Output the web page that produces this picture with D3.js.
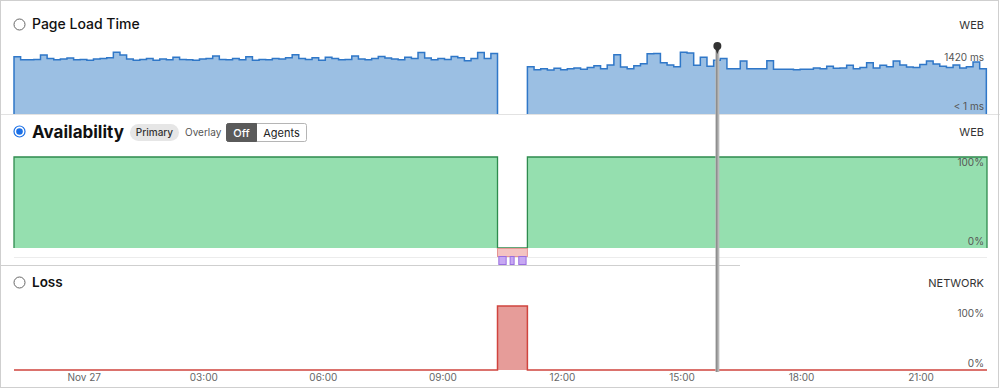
<!DOCTYPE html>
<html>
<head>
<meta charset="utf-8">
<script src="https://cdn.jsdelivr.net/npm/d3@7"></script>
<style>
  body { margin: 0; background: #fff; }
  svg { display: block; font-family: Inter, "Noto Sans", sans-serif; }
</style>
</head>
<body>
<div class="canvas"></div>
<script>
// time window + data segments (10 minute bins)
const domainStart = new Date(2023, 10, 26, 22, 15);
const domainEnd = new Date(2023, 10, 27, 22, 40);
const leftStart = new Date(2023, 10, 26, 22, 15);
const leftEnd = new Date(2023, 10, 27, 10, 23);
const rightStart = new Date(2023, 10, 27, 11, 8);
const rightEnd = new Date(2023, 10, 27, 22, 39);
const cursorTime = new Date(2023, 10, 27, 15, 54);

// page load time (ms) per bin
const loadLeft = [
  1340, 1270, 1270, 1280, 1380, 1300, 1270, 1290, 1310, 1270,
  1280, 1260, 1290, 1300, 1320, 1450, 1380, 1290, 1260, 1280,
  1300, 1260, 1290, 1270, 1330, 1280, 1270, 1260, 1290, 1300,
  1360, 1280, 1270, 1300, 1270, 1340, 1260, 1280, 1270, 1300,
  1290, 1320, 1390, 1300, 1280, 1320, 1260, 1330, 1300, 1270,
  1280, 1360, 1290, 1270, 1300, 1350, 1310, 1290, 1270, 1330,
  1300, 1440, 1310, 1270, 1300, 1280, 1350, 1320, 1250, 1300,
  1440, 1300, 1420
];
const loadRight = [
  1110, 1040, 1060, 1030, 1070, 1040, 1060, 1080, 1050, 1090,
  1130, 1060, 1150, 1390, 1100, 1060, 1130, 1180, 1410, 1420,
  1200, 1150, 1110, 1450, 1430, 1140, 1330, 1120, 1260, 1300,
  1060, 1060, 1240, 1060, 1060, 1060, 1250, 1050, 1050, 1050,
  1040, 1050, 1050, 1080, 1060, 1120, 1070, 1080, 1140, 1060,
  1090, 1200, 1080, 1140, 1110, 1240, 1150, 1100, 1090, 1160,
  1240, 1170, 1120, 1090, 1150, 1080, 1110, 1220, 1060
];

// availability (%) and loss (%) as steps: [time, value]
const availSteps = [
  [leftStart, 100], [leftEnd, 0], [rightStart, 100], [domainEnd, 100]
];
const lossSteps = [
  [leftStart, 0], [leftEnd, 100], [rightStart, 0], [domainEnd, 0]
];
// error markers under availability
const errorBand = [[leftEnd, rightStart]];
const agentErrors = [
  [new Date(2023, 10, 27, 10, 25), new Date(2023, 10, 27, 10, 36)],
  [new Date(2023, 10, 27, 10, 42), new Date(2023, 10, 27, 10, 48)],
  [new Date(2023, 10, 27, 10, 55), new Date(2023, 10, 27, 11, 6)]
];
const tickHours = [0, 3, 6, 9, 12, 15, 18, 21];

const dims = { width: 1000, height: 389 };

const svg = d3.select('.canvas')
  .append('svg')
  .attr('width', dims.width)
  .attr('height', dims.height);

const x = d3.scaleTime()
  .domain([domainStart, domainEnd])
  .range([14, 987]);

// turn a bin array into step points
const toPoints = (vals, start, end) => {
  const step = (end - start) / vals.length;
  const pts = vals.map((v, i) => [new Date(+start + i * step), v]);
  pts.push([end, vals[vals.length - 1]]);
  return pts;
};

// ---------- page load panel ----------
const yLoad = d3.scaleLinear().domain([0, 1500]).range([114, 50]);

const loadArea = d3.area()
  .curve(d3.curveStepAfter)
  .x(d => x(d[0]))
  .y0(yLoad(0))
  .y1(d => yLoad(d[1]));

const loadLine = d3.line()
  .curve(d3.curveStepAfter)
  .x(d => x(d[0]))
  .y(d => yLoad(d[1]));

[toPoints(loadLeft, leftStart, leftEnd), toPoints(loadRight, rightStart, rightEnd)].forEach(pts => {
  svg.append('path').attr('d', loadArea(pts)).attr('fill', '#9bbfe3');
  // outline incl. vertical edges down to baseline
  const outline = [[pts[0][0], 0], ...pts, [pts[pts.length - 1][0], 0]];
  svg.append('path').attr('d', loadLine(outline))
    .attr('fill', 'none').attr('stroke', '#2f77c8').attr('stroke-width', 1.5);
});

svg.append('line').attr('x1', 0).attr('x2', 1000).attr('y1', 114.5).attr('y2', 114.5)
  .attr('stroke', '#e2e2e2');

// ---------- availability panel ----------
const yAvail = d3.scaleLinear().domain([0, 100]).range([248, 157]);

const availArea = d3.area()
  .curve(d3.curveStepAfter)
  .x(d => x(d[0]))
  .y0(yAvail(0))
  .y1(d => yAvail(d[1]));

svg.append('path').attr('d', availArea(availSteps)).attr('fill', '#95dfaf');

const availOutline = [[leftStart, 0], ...availSteps, [domainEnd, 0]];
svg.append('path')
  .attr('d', d3.line().curve(d3.curveStepAfter).x(d => x(d[0])).y(d => yAvail(d[1]))(availOutline))
  .attr('fill', 'none').attr('stroke', '#2e8b4e').attr('stroke-width', 1.3);

svg.append('line').attr('x1', 14).attr('x2', 987).attr('y1', 257.5).attr('y2', 257.5)
  .attr('stroke', '#ececec');

svg.selectAll('.errband').data(errorBand).enter().append('rect')
  .attr('x', d => x(d[0]))
  .attr('width', d => x(d[1]) - x(d[0]))
  .attr('y', 248.5).attr('height', 8)
  .attr('fill', '#f4c3c2').attr('stroke', '#e59593');

svg.selectAll('.agent').data(agentErrors).enter().append('rect')
  .attr('x', d => x(d[0]))
  .attr('width', d => x(d[1]) - x(d[0]))
  .attr('y', 256.5).attr('height', 8)
  .attr('fill', '#c7a8f3').attr('stroke', '#9a6fe0');

svg.append('line').attr('x1', 0).attr('x2', 740).attr('y1', 265.5).attr('y2', 265.5)
  .attr('stroke', '#cfcfcf');

// ---------- loss panel ----------
const yLoss = d3.scaleLinear().domain([0, 100]).range([370, 306]);

const lossArea = d3.area()
  .curve(d3.curveStepAfter)
  .x(d => x(d[0]))
  .y0(yLoss(0))
  .y1(d => yLoss(d[1]));

svg.append('path').attr('d', lossArea(lossSteps)).attr('fill', '#e69c99');
svg.append('path')
  .attr('d', d3.line().curve(d3.curveStepAfter).x(d => x(d[0])).y(d => yLoss(d[1]))(lossSteps))
  .attr('fill', 'none').attr('stroke', '#d0443e').attr('stroke-width', 1.5);

// ---------- time axis ----------
const axis = d3.axisBottom(x)
  .tickValues(tickHours.map(h => new Date(2023, 10, 27, h)))
  .tickSize(0)
  .tickPadding(0)
  .tickFormat(d => d.getHours() === 0 ? 'Nov 27' : d3.timeFormat('%H:%M')(d));

const axisG = svg.append('g').attr('transform', 'translate(0, 374)').call(axis);
axisG.select('.domain').remove();
axisG.selectAll('text').attr('fill', '#666').attr('font-size', 10)
  .attr('font-family', 'Inter, sans-serif').attr('dy', '0.71em');

// ---------- labels ----------
const rightLabel = (txt, y, size, color) => svg.append('text')
  .attr('x', 984).attr('y', y).attr('text-anchor', 'end')
  .attr('font-size', size).attr('fill', color).text(txt);

rightLabel('WEB', 29, 11, '#333');
rightLabel('1420 ms', 61, 10, '#555');
rightLabel('< 1 ms', 110, 10, '#555');
rightLabel('WEB', 136, 11, '#333');
rightLabel('100%', 166, 10, '#555');
rightLabel('0%', 245, 10, '#555');
rightLabel('NETWORK', 287, 11, '#333');
rightLabel('100%', 317, 10, '#555');
rightLabel('0%', 367, 10, '#555');

// radio buttons
svg.append('circle').attr('cx', 19.5).attr('cy', 24.5).attr('r', 5.5)
  .attr('fill', '#fff').attr('stroke', '#666');
svg.append('circle').attr('cx', 19.5).attr('cy', 131.5).attr('r', 5.5)
  .attr('fill', '#fff').attr('stroke', '#1a6fe6').attr('stroke-width', 1.2);
svg.append('circle').attr('cx', 19.5).attr('cy', 131.5).attr('r', 3.3)
  .attr('fill', '#1a6fe6');
svg.append('circle').attr('cx', 19.5).attr('cy', 282.5).attr('r', 5.5)
  .attr('fill', '#fff').attr('stroke', '#666');

svg.append('text').attr('x', 32).attr('y', 29).attr('font-size', 14).attr('font-weight', 500)
  .attr('fill', '#111').text('Page Load Time');
svg.append('text').attr('x', 32).attr('y', 138).attr('font-size', 17).attr('font-weight', 700)
  .attr('fill', '#111').text('Availability');
svg.append('text').attr('x', 32).attr('y', 287).attr('font-size', 13.5).attr('font-weight', 600)
  .attr('fill', '#111').text('Loss');

// controls
svg.append('rect').attr('x', 130).attr('y', 124).attr('width', 49).attr('height', 17).attr('rx', 8.5)
  .attr('fill', '#e6e6e6');
svg.append('text').attr('x', 154.5).attr('y', 136).attr('text-anchor', 'middle')
  .attr('font-size', 10).attr('font-weight', 500).attr('fill', '#333').text('Primary');
svg.append('text').attr('x', 185).attr('y', 136)
  .attr('font-size', 10).attr('fill', '#555').text('Overlay');
svg.append('rect').attr('x', 226.5).attr('y', 123.5).attr('width', 80).attr('height', 18).attr('rx', 2)
  .attr('fill', '#fff').attr('stroke', '#b5b5b5');
svg.append('path').attr('d', 'M228.5,123.5 H256.5 V141.5 H228.5 A2,2 0 0 1 226.5,139.5 V125.5 A2,2 0 0 1 228.5,123.5 Z')
  .attr('fill', '#5a5a5a').attr('stroke', '#5a5a5a');
svg.append('text').attr('x', 241.5).attr('y', 137).attr('text-anchor', 'middle')
  .attr('font-size', 11).attr('font-weight', 500).attr('fill', '#fff').text('Off');
svg.append('text').attr('x', 281.5).attr('y', 137).attr('text-anchor', 'middle')
  .attr('font-size', 11).attr('fill', '#222').text('Agents');

// cursor
const cx = x(cursorTime);
svg.append('line').attr('x1', cx).attr('x2', cx).attr('y1', 46).attr('y2', 372)
  .attr('stroke', '#b9b9b9').attr('stroke-width', 4);
svg.append('line').attr('x1', cx - 0.5).attr('x2', cx - 0.5).attr('y1', 46).attr('y2', 372)
  .attr('stroke', '#777').attr('stroke-width', 1);
svg.append('path').attr('d', `M${cx - 2},49 L${cx},54 L${cx + 2},49 Z`).attr('fill', '#333');
svg.append('circle').attr('cx', cx).attr('cy', 46).attr('r', 4).attr('fill', '#333');

// outer frame
svg.append('rect').attr('x', 0.5).attr('y', 0.5).attr('width', 998).attr('height', 387)
  .attr('fill', 'none').attr('stroke', '#cfcfcf');
</script>
</body>
</html>
